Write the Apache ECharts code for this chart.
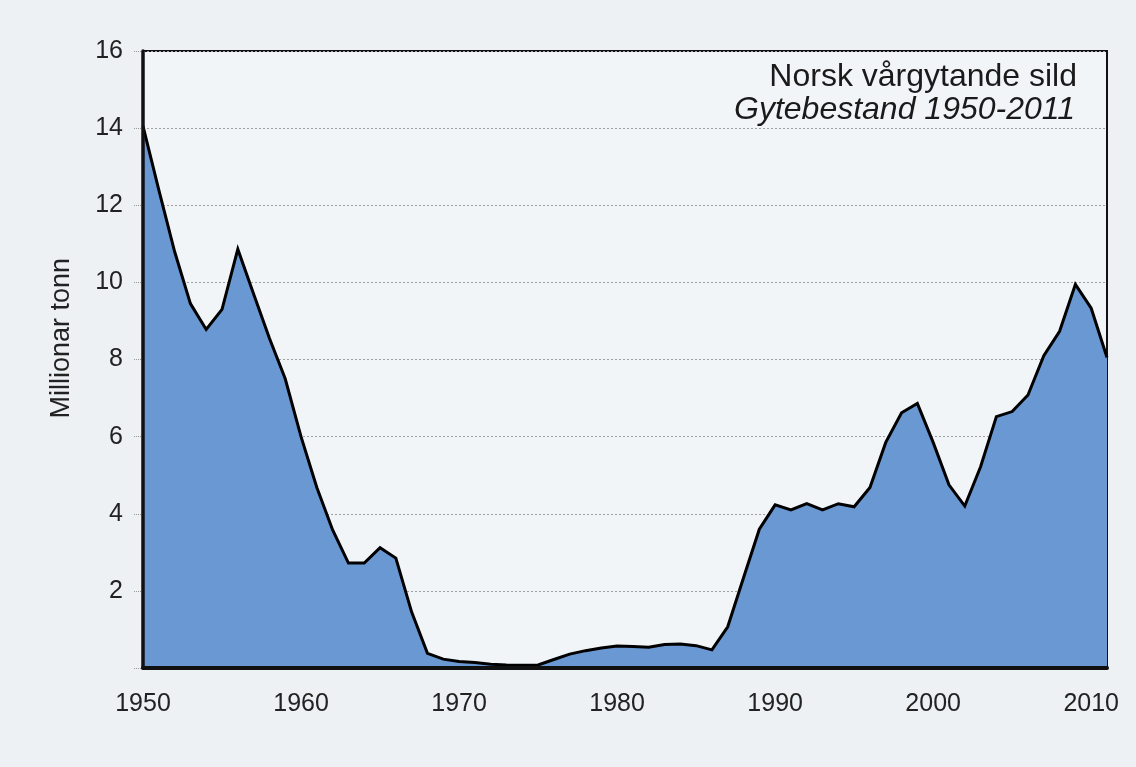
<!DOCTYPE html>
<html>
<head>
<meta charset="utf-8">
<script src="https://cdn.jsdelivr.net/npm/echarts@6/dist/echarts.min.js"></script>
<style>
  html, body { margin: 0; padding: 0; background: #edf1f4; }
  #chart { width: 1136px; height: 767px; }
</style>
</head>
<body>
<div id="chart"></div>
<script>
// Years 1950-2011
const years = [];
for (let y = 1950; y <= 2011; y++) years.push(y);

// Spawning stock biomass, million tonnes
const stock = [
  14.05, 12.4, 10.8, 9.45, 8.78, 9.3, 10.86, 9.7, 8.55, 7.5,
  6.0, 4.68, 3.58, 2.72, 2.72, 3.12, 2.85, 1.45, 0.38, 0.23,
  0.17, 0.14, 0.1, 0.08, 0.07, 0.08, 0.22, 0.36, 0.45, 0.52,
  0.57, 0.56, 0.54, 0.61, 0.62, 0.58, 0.47, 1.07, 2.34, 3.6,
  4.23, 4.1, 4.26, 4.1, 4.26, 4.18, 4.68, 5.85, 6.62, 6.86,
  5.85, 4.75, 4.2, 5.22, 6.52, 6.65, 7.08, 8.1, 8.73, 9.95,
  9.33, 8.05
];

const xTicks = [1950, 1960, 1970, 1980, 1990, 2000, 2010];
const yTicks = [2, 4, 6, 8, 10, 12, 14, 16];
const titleLine1 = 'Norsk vårgytande sild';
const titleLine2 = 'Gytebestand 1950-2011';
const yName = 'Millionar tonn';

const seriesData = years.map((y, i) => [y, stock[i]]);
const FONT = 'Liberation Sans, Arial, sans-serif';

const chart = echarts.init(document.getElementById('chart'));
chart.setOption({
  backgroundColor: '#edf1f4',
  animation: false,
  title: [
    { text: titleLine1, right: 54, top: 56,
      textStyle: { fontFamily: FONT, fontSize: 32, fontWeight: 'normal', color: '#1a1a1a' } },
    { text: titleLine2, right: 56, top: 89,
      textStyle: { fontFamily: FONT, fontSize: 32, fontWeight: 'normal', fontStyle: 'italic', color: '#1a1a1a' } }
  ],
  graphic: [{
    type: 'text', left: 48, top: 258, rotation: Math.PI / 2,
    style: { text: yName, fontFamily: FONT, fontSize: 27, fill: '#222' }
  }],
  grid: {
    left: 143, right: 29, top: 51, bottom: 99,
    show: true, backgroundColor: '#f2f5f7', borderColor: '#111', borderWidth: 2
  },
  xAxis: {
    type: 'value', min: 1950, max: 2011, interval: 10, z: 5,
    axisLine: { show: true, onZero: false, lineStyle: { color: '#111', width: 4 } },
    axisTick: { show: false },
    splitLine: { show: false },
    axisLabel: {
      margin: 24, fontSize: 25, color: '#222', fontFamily: FONT,
      formatter: v => xTicks.includes(v) ? String(v) : ''
    }
  },
  yAxis: [{
    type: 'value', min: 0, max: 16, interval: 2,
    axisLine: { show: false },
    axisTick: { show: true, inside: false, length: 9, lineStyle: { color: '#999', type: 'dotted', width: 1 } },
    splitLine: { show: true, lineStyle: { color: '#a0a0a0', type: [2, 2], width: 1 } },
    axisLabel: {
      margin: 20, fontSize: 25, color: '#222', fontFamily: FONT,
      formatter: v => yTicks.includes(v) ? String(v) : ''
    }
  }, {
    type: 'value', min: 0, max: 16, interval: 2, position: 'left', z: 5,
    axisLine: { show: true, onZero: false, lineStyle: { color: '#111', width: 3.5 } },
    axisTick: { show: false }, axisLabel: { show: false }, splitLine: { show: false }
  }],
  series: [{
    type: 'line',
    data: seriesData,
    yAxisIndex: 0,
    symbol: 'none',
    lineStyle: { color: '#000', width: 3, join: 'miter' },
    areaStyle: { color: '#6a98d3', opacity: 1 },
    z: 3
  }]
});
</script>
</body>
</html>
